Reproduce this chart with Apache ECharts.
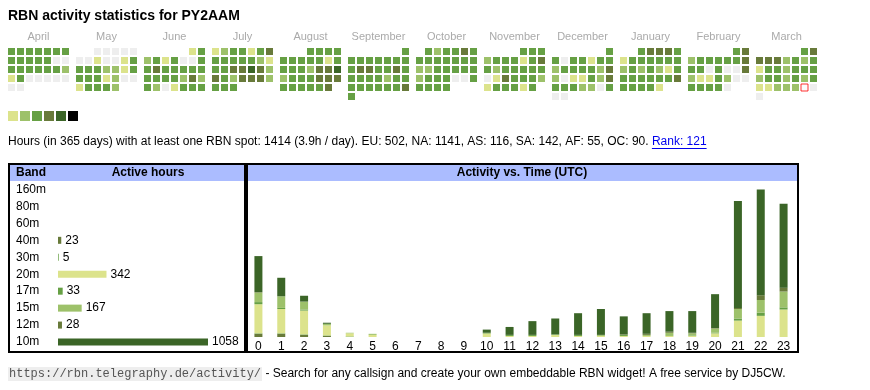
<!DOCTYPE html>
<html><head><meta charset="utf-8">
<script src="https://cdn.jsdelivr.net/npm/echarts@6/dist/echarts.min.js"></script>
<style>html,body{margin:0;padding:0;background:#fff}#c{width:870px;height:390px}</style>
</head><body><div id="c"></div>
<script>
const FONT = '"Liberation Sans", Arial, Helvetica, sans-serif';
const MONO = '"Liberation Mono", "Courier New", monospace';

// ---- calendar data (activity level per day, 0 = none) ----
const monthNames = ['April','May','June','July','August','September','October','November','December','January','February','March'];
const monthKeys  = ['2024-04','2024-05','2024-06','2024-07','2024-08','2024-09','2024-10','2024-11','2024-12','2025-01','2025-02','2025-03'];
const lvApr = [3,3,3,3,3,3,3, 3,3,3,3,3,0,0, 3,3,3,3,3,3,2, 1,3,0,0,0,0,0, 0,0];
const lvMay = [0,0,0,0,0, 0,0,1,0,0,1,3, 3,3,3,2,2,1,3, 3,3,3,1,2,0,0, 1,3,3,3,2];
const lvJun = [1,3, 2,3,1,3,0,0,3, 3,4,3,3,3,3,3, 3,3,3,3,2,4,2, 3,2,0,1,3,3,3];
const lvJul = [1,2,3,3,1,3,4, 3,3,3,3,3,2,1, 3,3,4,4,5,4,2, 4,3,2,4,4,4,2, 3,3,3];
const lvAug = [3,3,3,3, 3,3,3,3,3,1,3, 3,3,3,2,4,4,5, 2,3,3,3,4,4,4, 3,3,3,3,3,4];
const lvSep = [3, 3,3,3,3,3,3,3, 3,4,4,3,3,4,3, 3,3,3,3,2,3,3, 3,3,3,3,3,3,4, 3];
const lvOct = [3,2,3,3,4,3, 3,3,3,3,3,3,3, 2,2,3,3,3,3,3, 2,3,3,3,0,0,3, 3,3,3,3];
const lvNov = [3,3,3, 2,3,3,3,1,3,4, 3,2,3,3,3,3,3, 0,1,4,3,3,3,2, 1,3,3,3,1,3];
const lvDec = [3, 3,0,3,3,1,3,3, 2,3,3,3,3,2,4, 2,0,1,1,3,2,4, 3,3,3,2,2,0,3, 0,0];
const lvJan = [3,4,4,4,3, 1,3,3,3,3,3,3, 2,3,2,3,2,1,3, 3,3,3,3,3,3,4, 3,3,3,3,1];
const lvFeb = [3,4, 2,3,3,3,3,3,4, 3,3,0,3,0,0,4, 2,1,1,3,2,0,0, 3,3,3,3,0];
const lvMar = [3,4, 4,4,4,2,3,2,3, 1,3,3,2,3,3,3, 2,3,3,2,3,2,3, 1,1,2,2,2,0,0, 0];
const monthLevels = [lvApr,lvMay,lvJun,lvJul,lvAug,lvSep,lvOct,lvNov,lvDec,lvJan,lvFeb,lvMar];
const todayDate = '2025-03-29';
const levelValues = [1,2,3,4,5,6];

// ---- band table ----
const bands = ['160m','80m','60m','40m','30m','20m','17m','15m','12m','10m'];
const bandHours = [0,0,0,23,5,342,33,167,28,1058];

// ---- activity vs time (UTC), hours per band per hour of day ----
const hourLabels = ['0','1','2','3','4','5','6','7','8','9','10','11','12','13','14','15','16','17','18','19','20','21','22','23'];
const stackBands = ['40m','30m','20m','17m','15m','12m','10m'];
const h40 = [6,6,4,2,0,0,0,0,0,0,0,0,0,0,0,0,0,0,0,0,0,0,0,0];
const h30 = [1,1,1,1,1,0,0,0,0,0,0,0,0,0,0,0,0,0,0,0,0,0,0,0];
const h20 = [55,46,45,19,6,4,0,0,0,0,6,2,2,4,2,2,2,2,2,2,7,31,40,52];
const h17 = [4,2,2,0,0,0,0,0,0,0,0,2,2,1,2,0,2,0,0,1,1,4,6,4];
const h15 = [18,22,15,3,1,2,0,0,0,0,2,0,0,0,0,2,0,2,6,4,8,18,24,30];
const h12 = [1,0,0,0,0,0,0,0,0,0,0,0,0,0,0,0,1,2,2,1,1,2,9,7];
const h10 = [68,35,11,2,0,0,0,0,0,0,6,15,26,30,41,49,34,39,39,41,64,202,200,159];
const stackValues = [h40,h30,h20,h17,h15,h12,h10];

// ---- styles ----
const levelColors = ['#dce38c','#9dc16a','#66a044','#687a3a','#3b6527','#000000'];
const bandColorMap = {'160m':'#3b6527','80m':'#3b6527','60m':'#3b6527','40m':'#687a3a','30m':'#66a044','20m':'#dce38c','17m':'#66a044','15m':'#9dc16a','12m':'#687a3a','10m':'#3b6527'};

const pad = n => (n < 10 ? '0' : '') + n;
const mctx = document.createElement('canvas').getContext('2d');
function tw(text, font) { mctx.font = font; return mctx.measureText(text).width; }

const calendars = monthKeys.map((k, i) => ({
  orient: 'vertical', range: k, left: 7 + 68 * i, top: 47, cellSize: [9, 9],
  itemStyle: { color: '#eeeeee', borderColor: '#ffffff', borderWidth: 2 },
  splitLine: { show: false },
  dayLabel: { show: false, firstDay: 1 },
  monthLabel: { show: false },
  yearLabel: { show: true, position: 'top', margin: 5, formatter: () => monthNames[i],
    color: '#aaaaaa', fontSize: 11, fontFamily: FONT, fontWeight: 'normal' }
}));

const series = [];
monthKeys.forEach((k, i) => {
  const data = [];
  monthLevels[i].forEach((v, d) => { if (v > 0) data.push([k + '-' + pad(d + 1), v]); });
  series.push({ type: 'heatmap', coordinateSystem: 'calendar', calendarIndex: i, data,
    itemStyle: { borderWidth: 0 }, emphasis: { disabled: true }, silent: true });
});
series.push({ type: 'scatter', coordinateSystem: 'calendar', calendarIndex: 11, data: [[todayDate, 1]],
  symbol: 'rect', symbolSize: 7, itemStyle: { color: '#ffffff', borderColor: '#ff0000', borderWidth: 1 }, silent: true });

series.push({
  type: 'bar', xAxisIndex: 0, yAxisIndex: 0, barWidth: 7, silent: true,
  data: bandHours.map((v, i) => ({ value: v, itemStyle: { color: bandColorMap[bands[i]] } })),
  label: { show: true, position: 'right', distance: 4, fontSize: 12, color: '#000', fontFamily: FONT,
    formatter: p => (p.value > 0 ? String(p.value) : '') }
});
stackBands.forEach((b, i) => {
  series.push({ type: 'bar', name: b, xAxisIndex: 1, yAxisIndex: 1, stack: 'h', barWidth: 8, silent: true,
    itemStyle: { color: bandColorMap[b] }, data: stackValues[i] });
});

const infoText = 'Hours (in 365 days) with at least one RBN spot: 1414 (3.9h / day). EU: 502, NA: 1141, AS: 116, SA: 142, AF: 55, OC: 90. ';
const linkText = 'Rank: 121';
const textFont = '12px ' + FONT;
const infoW = tw(infoText, textFont);
const linkW = tw(linkText, textFont);
const urlText = 'https://rbn.telegraphy.de/activity/';
const footText = ' - Search for any callsign and create your own embeddable RBN widget! A free service by DJ5CW.';
const urlW = tw(urlText, '12px ' + MONO);

const option = {
  animation: false,
  backgroundColor: '#ffffff',
  title: { text: 'RBN activity statistics for PY2AAM', left: 8, top: 9, padding: 0,
    textStyle: { fontFamily: FONT, fontSize: 14, fontWeight: 'bold', color: '#000' } },
  calendar: calendars,
  visualMap: { type: 'piecewise', seriesIndex: [0,1,2,3,4,5,6,7,8,9,10,11], orient: 'horizontal',
    left: 8, top: 111, itemWidth: 10, itemHeight: 10, itemGap: 2, itemSymbol: 'rect', showLabel: false,
    padding: 0, selectedMode: false, hoverLink: false,
    pieces: levelValues.map((v, i) => ({ value: v, color: levelColors[i] })) },
  grid: [
    { left: 58, top: 181, width: 150, height: 169.5 },
    { left: 247, top: 181, width: 548, height: 156 }
  ],
  xAxis: [
    { type: 'value', gridIndex: 0, min: 0, max: 'dataMax', show: false },
    { type: 'category', gridIndex: 1, data: hourLabels, axisLine: { show: false }, axisTick: { show: false },
      axisLabel: { fontSize: 12, color: '#000', fontFamily: FONT, margin: 4, interval: 0 } }
  ],
  yAxis: [
    { type: 'category', gridIndex: 0, data: bands, inverse: true, axisLine: { show: false }, axisTick: { show: false },
      splitLine: { show: false },
      axisLabel: { align: 'left', margin: 42, fontSize: 12, color: '#000', fontFamily: FONT } },
    { type: 'value', gridIndex: 1, min: 0, max: 295, show: false }
  ],
  series,
  graphic: [
    { type: 'rect', z: 1, shape: { x: 10, y: 165, width: 234, height: 16 }, style: { fill: '#abbcff' } },
    { type: 'rect', z: 1, shape: { x: 248, y: 165, width: 549, height: 16 }, style: { fill: '#abbcff' } },
    { type: 'rect', z: 10, shape: { x: 9, y: 164, width: 236, height: 188 }, style: { fill: 'none', stroke: '#000', lineWidth: 2 } },
    { type: 'rect', z: 10, shape: { x: 247, y: 164, width: 551, height: 188 }, style: { fill: 'none', stroke: '#000', lineWidth: 2 } },
    { type: 'text', z: 11, x: 16, y: 173, style: { text: 'Band', font: 'bold 12px ' + FONT, fill: '#000', verticalAlign: 'middle' } },
    { type: 'text', z: 11, x: 148, y: 173, style: { text: 'Active hours', font: 'bold 12px ' + FONT, fill: '#000', align: 'center', verticalAlign: 'middle' } },
    { type: 'text', z: 11, x: 522, y: 173, style: { text: 'Activity vs. Time (UTC)', font: 'bold 12px ' + FONT, fill: '#000', align: 'center', verticalAlign: 'middle' } },
    { type: 'text', z: 11, x: 8, y: 142, style: { text: infoText, font: textFont, fill: '#000', verticalAlign: 'middle' } },
    { type: 'text', z: 11, x: 8 + infoW, y: 142, style: { text: linkText, font: textFont, fill: '#0000ee', verticalAlign: 'middle' } },
    { type: 'line', z: 11, shape: { x1: 8 + infoW, y1: 148.5, x2: 8 + infoW + linkW, y2: 148.5 }, style: { stroke: '#0000ee', lineWidth: 1 } },
    { type: 'text', z: 11, x: 8, y: 374, style: { text: urlText, font: '12px ' + MONO, fill: '#555', verticalAlign: 'middle',
      backgroundColor: '#eeeeee', padding: [1, 1, 1, 1] } },
    { type: 'text', z: 11, x: 10 + urlW, y: 374, style: { text: footText, font: textFont, fill: '#000', verticalAlign: 'middle' } }
  ]
};
const chart = echarts.init(document.getElementById('c'), null, { renderer: 'canvas' });
chart.setOption(option);
</script></body></html>
